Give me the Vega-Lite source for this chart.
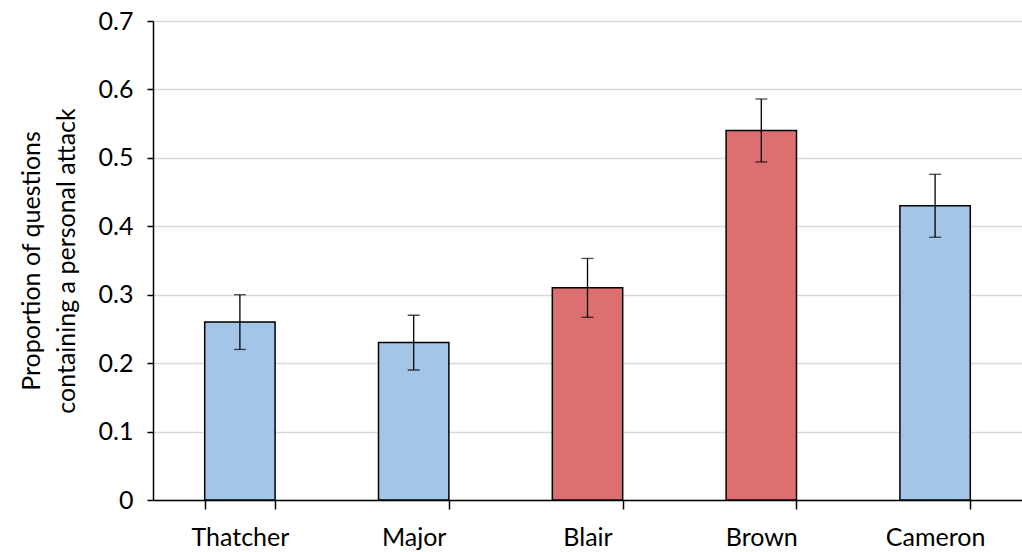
{
  "$schema": "https://vega.github.io/schema/vega-lite/v6.json",
  "width": 869,
  "height": 479,
  "autosize": "none",
  "padding": {"left": 153, "top": 21, "right": 0, "bottom": 52},
  "background": "white",
  "config": {
    "font": "Lato",
    "view": {"stroke": null},
    "axis": {
      "domainColor": "#000000",
      "domainWidth": 1.5,
      "tickColor": "#000000",
      "tickWidth": 1.5,
      "labelColor": "#000000",
      "titleColor": "#000000",
      "labelFontSize": 25,
      "labelFont": "Lato",
      "titleFont": "Lato"
    }
  },
  "data": {
    "values": [
      {"pm": "Thatcher", "party": "Conservative", "value": 0.26, "lo": 0.22, "hi": 0.30},
      {"pm": "Major", "party": "Conservative", "value": 0.23, "lo": 0.19, "hi": 0.27},
      {"pm": "Blair", "party": "Labour", "value": 0.31, "lo": 0.267, "hi": 0.353},
      {"pm": "Brown", "party": "Labour", "value": 0.54, "lo": 0.494, "hi": 0.586},
      {"pm": "Cameron", "party": "Conservative", "value": 0.43, "lo": 0.384, "hi": 0.476}
    ]
  },
  "encoding": {
    "x": {
      "field": "pm",
      "type": "nominal",
      "sort": null,
      "scale": {"paddingInner": 0.595, "paddingOuter": 0.2975},
      "axis": {
        "title": null,
        "labelAngle": 0,
        "tickBand": "extent",
        "tickSize": 9,
        "labelPadding": 16,
        "grid": false
      }
    }
  },
  "layer": [
    {
      "mark": {"type": "bar", "stroke": "#000000", "strokeWidth": 1.5},
      "encoding": {
        "y": {
          "field": "value",
          "type": "quantitative",
          "scale": {"domain": [0, 0.7], "nice": false},
          "axis": {
            "values": [0, 0.1, 0.2, 0.3, 0.4, 0.5, 0.6, 0.7],
            "format": "~g",
            "tickSize": 6,
            "labelPadding": 14,
            "grid": true,
            "gridColor": "#d9d9d9",
            "gridWidth": 1.5,
            "title": ["Proportion of questions", "containing a personal attack"],
            "titleFontSize": 25,
            "titleFontWeight": "normal",
            "titlePadding": 19,
            "titleLineHeight": 35
          }
        },
        "fill": {
          "field": "party",
          "type": "nominal",
          "scale": {"domain": ["Conservative", "Labour"], "range": ["#a3c6e8", "#dc7070"]},
          "legend": null
        }
      }
    },
    {
      "mark": {"type": "rule", "color": "#000000", "strokeWidth": 1.3},
      "encoding": {
        "y": {"field": "lo", "type": "quantitative"},
        "y2": {"field": "hi"}
      }
    },
    {
      "mark": {"type": "tick", "color": "#000000", "size": 12, "thickness": 1.3},
      "encoding": {
        "y": {"field": "lo", "type": "quantitative"}
      }
    },
    {
      "mark": {"type": "tick", "color": "#000000", "size": 12, "thickness": 1.3},
      "encoding": {
        "y": {"field": "hi", "type": "quantitative"}
      }
    }
  ]
}
